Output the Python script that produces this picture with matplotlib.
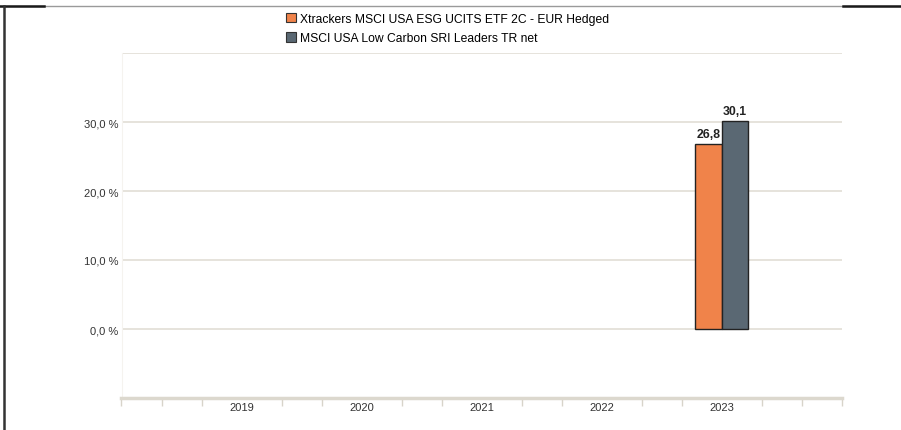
import numpy as np
import matplotlib.pyplot as plt
from matplotlib.lines import Line2D
from matplotlib.patches import Patch

plt.rcParams['font.family'] = ['Liberation Sans', 'DejaVu Sans']

years = ['2019', '2020', '2021', '2022', '2023']
fund = [np.nan, np.nan, np.nan, np.nan, 26.8]
index = [np.nan, np.nan, np.nan, np.nan, 30.1]
fund_name = 'Xtrackers MSCI USA ESG UCITS ETF 2C - EUR Hedged'
index_name = 'MSCI USA Low Carbon SRI Leaders TR net'

c_fund = '#f0834a'
c_index = '#5a6873'
grid_c = '#e2ded6'

fig = plt.figure(figsize=(9.01, 4.31), dpi=100)
ax = fig.add_axes([121.5 / 901, 32 / 431, (842 - 121.5) / 901, 345 / 431])

x = np.arange(len(years))
w = 0.22
ax.bar(x - w / 2, fund, w, color=c_fund, edgecolor='#222222', linewidth=1, zorder=3)
ax.bar(x + w / 2, index, w, color=c_index, edgecolor='#222222', linewidth=1, zorder=3)
for i in range(len(years)):
    if not np.isnan(fund[i]):
        ax.text(x[i] - w / 2, fund[i] + 0.6, f'{fund[i]:.1f}'.replace('.', ','),
                ha='center', va='bottom', fontsize=8.8, fontweight='bold', color='#222222')
    if not np.isnan(index[i]):
        ax.text(x[i] + w / 2, index[i] + 0.6, f'{index[i]:.1f}'.replace('.', ','),
                ha='center', va='bottom', fontsize=8.8, fontweight='bold', color='#222222')

ax.set_xlim(-1, 5)
ax.set_ylim(-10, 40)

# horizontal gridlines
for v in [0, 10, 20, 30, 40]:
    ax.hlines(v, -1, 5, color=grid_c, lw=1.2, zorder=1)
ax.set_yticks([0, 10, 20, 30])
ax.set_yticklabels([f'{v:.1f} %'.replace('.', ',') for v in [0, 10, 20, 30]])
ax.tick_params(axis='y', length=0, pad=2, labelsize=8, labelcolor='#333333')

ax.set_xticks(x)
ax.set_xticklabels(years)
ax.tick_params(axis='x', length=0, pad=3, labelsize=8, labelcolor='#333333')
minor = [v for v in np.arange(-1, 5.01, 1 / 3) if abs(v - round(v)) > 0.05 or round(v) in (-1, 5)]
ax.set_xticks(minor, minor=True)
ax.tick_params(axis='x', which='minor', length=6, width=1, color='#d8d4ca', direction='out')

for s in ['top', 'right']:
    ax.spines[s].set_visible(False)
ax.spines['left'].set_color('#f5f3ef')
ax.spines['left'].set_linewidth(0.8)
ax.spines['bottom'].set_color('#dcd8ce')
ax.spines['bottom'].set_linewidth(2.5)

handles = [Patch(facecolor=c_fund, edgecolor='#333333', linewidth=0.8),
           Patch(facecolor=c_index, edgecolor='#333333', linewidth=0.8)]
fig.legend(handles, [fund_name, index_name], loc='upper left',
           bbox_to_anchor=(275 / 901, 1 - 3 / 431), frameon=False, fontsize=8.7,
           handlelength=0.8, handleheight=0.8, handletextpad=0.35, labelspacing=0.6)

# page frame
yt = 1 - 7 / 431
fig.add_artist(Line2D([0, 1], [yt, yt], color='#9a9a9a', lw=1))
fig.add_artist(Line2D([0, 44 / 901], [yt, yt], color='#1a1a1a', lw=1.8))
fig.add_artist(Line2D([843 / 901, 1], [yt, yt], color='#1a1a1a', lw=1.8))
fig.add_artist(Line2D([4 / 901, 4 / 901], [0, yt], color='#333333', lw=1.8))

plt.savefig('out.png', dpi=100)
